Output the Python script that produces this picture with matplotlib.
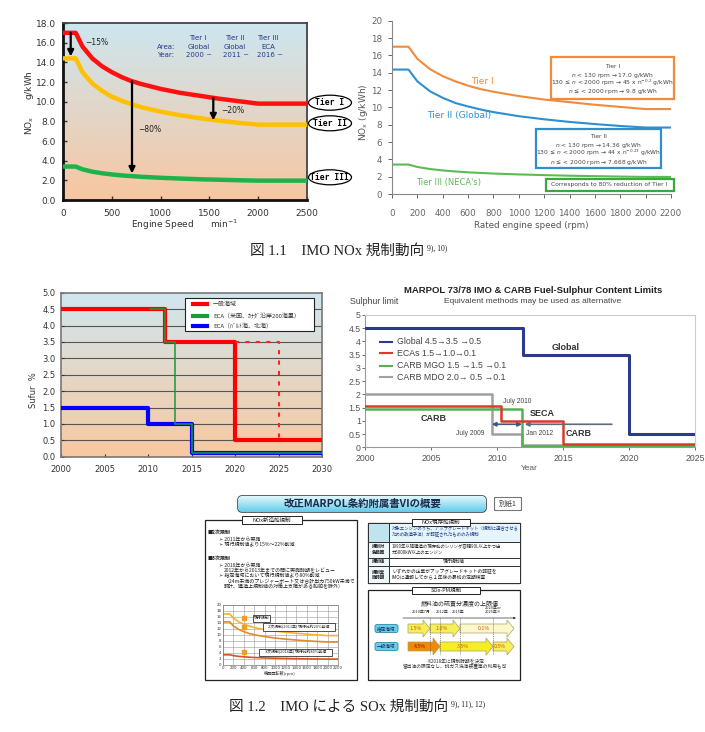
import numpy as np
import matplotlib
matplotlib.use('Agg')
import matplotlib.pyplot as plt
from matplotlib.patches import Rectangle, FancyBboxPatch, Ellipse, Polygon
from matplotlib.colors import LinearSegmentedColormap
from matplotlib.lines import Line2D

# ---------------- data ----------------
# Fig 1.1 (left): NOx limit vs engine speed
speed_a = [0, 130, 200, 300, 400, 500, 600, 700, 800, 1000, 1200, 1400, 1600, 1800, 2000, 2500]
tier1_a = [17.0, 17.0, 15.6, 14.4, 13.6, 13.0, 12.5, 12.1, 11.8, 11.3, 10.9, 10.6, 10.3, 10.05, 9.8, 9.8]
tier2_a = [14.4, 14.4, 13.0, 11.85, 11.1, 10.5, 10.1, 9.75, 9.45, 8.98, 8.62, 8.32, 8.07, 7.85, 7.66, 7.66]
tier3_a = [3.4, 3.4, 3.12, 2.88, 2.72, 2.60, 2.50, 2.43, 2.36, 2.26, 2.18, 2.11, 2.06, 2.01, 1.97, 1.97]
# Fig 1.1 (right): NOx limit vs rated engine speed
speed_b = [0, 130, 200, 300, 400, 500, 600, 700, 800, 1000, 1200, 1400, 1600, 1800, 2000, 2200]
tier1_b = [17.0, 17.0, 15.6, 14.4, 13.6, 13.0, 12.5, 12.1, 11.8, 11.3, 10.9, 10.6, 10.3, 10.05, 9.8, 9.8]
tier2_b = [14.36, 14.36, 13.0, 11.85, 11.1, 10.5, 10.1, 9.75, 9.45, 8.98, 8.62, 8.32, 8.07, 7.85, 7.67, 7.67]
tier3_b = [3.4, 3.4, 3.12, 2.88, 2.72, 2.60, 2.50, 2.43, 2.36, 2.26, 2.18, 2.11, 2.06, 2.01, 1.97, 1.97]

# Fig 1.2 (left): sulphur limits (%)
yrs_general = [2000, 2012, 2020, 2030]
sox_general = [4.5, 3.5, 0.5, 0.5]
yrs_eca_us = [2010.2, 2012, 2013.1, 2015, 2030]
sox_eca_us = [4.5, 3.5, 1.0, 0.1, 0.1]
yrs_eca_eu = [2000, 2010, 2015, 2030]
sox_eca_eu = [1.5, 1.0, 0.1, 0.1]
yrs_alt = [2020, 2025, 2025]
sox_alt = [3.5, 3.5, 0.5]

# Fig 1.2 (right): MARPOL / CARB
yrs_glob = [2000, 2012, 2020, 2025]
lim_glob = [4.5, 3.5, 0.5, 0.5]
yrs_ecas = [2000, 2010.3, 2015, 2025]
lim_ecas = [1.55, 1.0, 0.13, 0.13]
yrs_mgo = [2000, 2011.9, 2025]
lim_mgo = [1.45, 0.05, 0.05]
yrs_mdo = [2000, 2009.6, 2011.9, 2025]
lim_mdo = [2.0, 0.5, 0.08, 0.08]

# infographic SOx table
sox_eca_steps = ['1.5%', '1.0%', '0.1%']
sox_gen_steps = ['4.5%', '3.5%', '0.5%']

# ---------------- figure ----------------
W, H = 705, 732
fig = plt.figure(figsize=(W / 100, H / 100), dpi=100)
fig.patch.set_facecolor('white')

JP = ['Noto Sans CJK JP', 'DejaVu Sans']
SJ = ['Liberation Serif', 'Noto Sans CJK JP']
LS = ['Liberation Sans', 'DejaVu Sans']


def rect(x0, y0, x1, y1):
    return [x0 / W, 1 - y1 / H, (x1 - x0) / W, (y1 - y0) / H]


def grad_bg(ax, top_c, bot_c):
    cmap = LinearSegmentedColormap.from_list('g', [bot_c, top_c])
    g = np.linspace(0, 1, 256).reshape(-1, 1)
    ax.imshow(g, aspect='auto', cmap=cmap, extent=[0, 1, 0, 1], transform=ax.transAxes,
              origin='lower', zorder=0, interpolation='bilinear')


# ======== Fig 1.1 left ========
ax1 = fig.add_axes(rect(63, 23, 307, 200))
grad_bg(ax1, '#cde6f0', '#f8c6a0')
ax1.plot(speed_a, tier1_a, color='#ff1010', lw=3.2, zorder=3)
ax1.plot(speed_a, tier2_a, color='#ffc000', lw=3.2, zorder=3)
ax1.plot(speed_a, tier3_a, color='#1db34a', lw=3.2, zorder=3)
ax1.set_xlim(0, 2500)
ax1.set_ylim(0, 18)
ax1.set_xticks(range(0, 2501, 500))
ax1.set_yticks(np.arange(0, 18.1, 2))
ax1.set_yticklabels([f'{v:.1f}' for v in np.arange(0, 18.1, 2)])
ax1.tick_params(direction='in', length=3, labelsize=6.5, colors='#333', width=1)
ax1.tick_params(axis='y', pad=5)
ax1.tick_params(axis='x', pad=6.5)
for s in ['left', 'bottom']:
    ax1.spines[s].set_color('#111'); ax1.spines[s].set_linewidth(2)
for s in ['top', 'right']:
    ax1.spines[s].set_color('#444'); ax1.spines[s].set_linewidth(1.3)
akw = dict(arrowstyle='-|>', color='black', lw=1.6, mutation_scale=9, shrinkA=0, shrinkB=0)
ax1.annotate('', xy=(79, 14.6), xytext=(79, 17.0), arrowprops=akw, zorder=5)
ax1.annotate('', xy=(707, 2.7), xytext=(707, 12.1), arrowprops=akw, zorder=5)
ax1.annotate('', xy=(1540, 8.1), xytext=(1540, 10.4), arrowprops=akw, zorder=5)
ax1.text(225, 16.0, '−15%', fontsize=5.5, color='#222', va='center')
ax1.text(770, 7.2, '−80%', fontsize=5.5, color='#222', va='center')
ax1.text(1620, 9.1, '−20%', fontsize=5.5, color='#222', va='center')
hc = '#1f3a8a'
for xx, s in [(1380, 'Tier I'), (1757, 'Tier II'), (2100, 'Tier III')]:
    ax1.text(xx, 16.48, s, fontsize=5, color=hc, ha='center', va='center')
ax1.text(960, 15.56, 'Area:', fontsize=5, color=hc, va='center')
ax1.text(960, 14.78, 'Year:', fontsize=5, color=hc, va='center')
for xx, s in [(1386, 'Global'), (1757, 'Global'), (2100, 'ECA')]:
    ax1.text(xx, 15.56, s, fontsize=5, color=hc, ha='center', va='center')
for xx, s in [(1393, '2000 ~'), (1772, '2011 ~'), (2126, '2016 ~')]:
    ax1.text(xx, 14.78, s, fontsize=5, color=hc, ha='center', va='center')

# ======== Fig 1.1 right ========
ax2 = fig.add_axes(rect(392, 20.7, 671, 194))
ax2.plot(speed_b, tier1_b, color='#f28a3c', lw=1.5)
ax2.plot(speed_b, tier2_b, color='#2f8fcd', lw=1.5)
ax2.plot(speed_b, tier3_b, color='#5cbb55', lw=1.5)
ax2.set_xlim(0, 2200)
ax2.set_ylim(0, 20)
ax2.set_xticks(range(0, 2201, 200))
ax2.set_yticks(range(0, 21, 2))
ax2.tick_params(labelsize=6.3, colors='#666', length=3, width=0.7)
ax2.tick_params(axis='x', pad=8)
ax2.tick_params(axis='y', pad=4)
for s in ['top', 'right']:
    ax2.spines[s].set_visible(False)
for s in ['left', 'bottom']:
    ax2.spines[s].set_color('#888'); ax2.spines[s].set_linewidth(0.8)
ax2.text(710, 12.96, 'Tier I', color='#f28a3c', fontsize=6.5, ha='center', va='center')
ax2.text(530, 9.1, 'Tier II (Global)', color='#2f8fcd', fontsize=6.5, ha='center', va='center')
ax2.text(443, 1.35, "Tier III (NECA's)", color='#5cbb55', fontsize=6, ha='center', va='center')
ax2.add_patch(Rectangle((1256, 10.95), 966, 4.9, fill=False, ec='#f28a3c', lw=1.6, clip_on=False))
for yy, s in zip([14.69, 13.73, 12.77, 11.8],
                 ['Tier I', r'$n$ < 130 rpm → 17.0 g/kWh',
                  r'130 ≤ $n$ < 2000 rpm → 45 x n$^{-0.2}$ g/kWh', r'$n$ ≤ < 2000 rpm → 9.8 g/kWh']):
    ax2.text(1739, yy, s, fontsize=4.3, color='#444', ha='center', va='center', clip_on=False)
ax2.add_patch(Rectangle((1132, 2.97), 989, 4.5, fill=False, ec='#2f8fcd', lw=1.6, clip_on=False))
for yy, s in zip([6.69, 5.65, 4.70, 3.66],
                 ['Tier II', r'$n$ < 130 rpm → 14.36 g/kWh',
                  r'130 ≤ $n$ < 2000 rpm → 44 x n$^{-0.23}$ g/kWh', r'$n$ ≤ < 2000 rpm → 7.668 g/kWh']):
    ax2.text(1626, yy, s, fontsize=4.3, color='#444', ha='center', va='center', clip_on=False)
ax2.add_patch(Rectangle((1211, 0.38), 1011, 1.32, fill=False, ec='#3aa83a', lw=1.6, clip_on=False))
ax2.text(1716, 1.04, 'Corresponds to 80% reduction of Tier I', fontsize=4.3, color='#444',
         ha='center', va='center', clip_on=False)

# ======== Fig 1.2 left ========
ax3 = fig.add_axes(rect(61, 292.7, 322, 456.7))
grad_bg(ax3, '#cfe7ef', '#f9c8a0')
for v in np.arange(0.5, 5.0, 0.5):
    ax3.axhline(v, color='#555', lw=0.8, zorder=1)
ax3.plot(yrs_general, sox_general, drawstyle='steps-post', color='#ff0000', lw=3, zorder=3)
ax3.plot(yrs_alt, sox_alt, color='#ff2020', lw=1.5, ls=(0, (2, 3)), zorder=3)
ax3.plot(yrs_eca_eu, sox_eca_eu, drawstyle='steps-post', color='#0000ff', lw=3, zorder=3)
ax3.plot(yrs_eca_us, sox_eca_us, drawstyle='steps-post', color='#1a9a3a', lw=1.3, alpha=0.85, zorder=4)
ax3.set_xlim(2000, 2030)
ax3.set_ylim(0, 5)
ax3.set_xticks(range(2000, 2031, 5))
ax3.set_yticks(np.arange(0, 5.01, 0.5))
ax3.set_yticklabels([f'{v:.1f}' for v in np.arange(0, 5.01, 0.5)])
ax3.tick_params(direction='in', length=2, labelsize=6, colors='#333')
ax3.tick_params(axis='y', pad=4)
ax3.tick_params(axis='x', pad=6)
for s in ax3.spines.values():
    s.set_color('#777'); s.set_linewidth(1.2)

# ======== Fig 1.2 right ========
ax4 = fig.add_axes(rect(365, 315, 695, 447.3))
ax4.plot(yrs_mdo, lim_mdo, drawstyle='steps-post', color='#a0a0a0', lw=1.8, zorder=2)
ax4.plot(yrs_mgo, lim_mgo, drawstyle='steps-post', color='#55b055', lw=1.8, zorder=3)
ax4.plot(yrs_ecas, lim_ecas, drawstyle='steps-post', color='#d93a2b', lw=1.8, zorder=4)
ax4.plot(yrs_glob, lim_glob, drawstyle='steps-post', color='#2b3a8f', lw=2.2, zorder=5)
ax4.set_xlim(2000, 2025)
ax4.set_ylim(0, 5)
ax4.set_xticks(range(2000, 2026, 5))
ax4.set_yticks(np.arange(0, 5.01, 0.5))
ax4.set_yticklabels(['0', '0.5', '1', '1.5', '2', '2.5', '3', '3.5', '4', '4.5', '5'])
ax4.tick_params(labelsize=6.3, colors='#555', length=2.5, width=0.6)
ax4.tick_params(axis='y', pad=0.5)
ax4.tick_params(axis='x', pad=2)
for lab in ax4.get_xticklabels() + ax4.get_yticklabels():
    lab.set_family(LS)
for s in ['left', 'bottom']:
    ax4.spines[s].set_color('#999'); ax4.spines[s].set_linewidth(0.8)
for s in ['top', 'right']:
    ax4.spines[s].set_color('#ccc'); ax4.spines[s].set_linewidth(0.8)
ax4.annotate('', xy=(2009.6, 0.87), xytext=(2011.9, 0.87),
             arrowprops=dict(arrowstyle='<|-|>', color='#3a5a80', lw=1.2, mutation_scale=6,
                             shrinkA=0, shrinkB=0), zorder=6)
ax4.annotate('', xy=(2012.1, 0.87), xytext=(2018.7, 0.87),
             arrowprops=dict(arrowstyle='-|>', color='#5a6a80', lw=1.2, mutation_scale=6,
                             shrinkA=0, shrinkB=0), zorder=6)
ax4.text(2011.5, 1.72, 'July 2010', fontsize=4.8, color='#444', ha='center', va='center', family=LS)
ax4.text(2008.0, 0.53, 'July 2009', fontsize=4.8, color='#444', ha='center', va='center', family=LS)
ax4.text(2013.2, 0.53, 'Jan 2012', fontsize=4.8, color='#444', ha='center', va='center', family=LS)
ax4.text(2013.4, 1.26, 'SECA', fontsize=6.5, color='#333', ha='center', va='center', family=LS, fontweight='bold')
ax4.text(2005.2, 1.1, 'CARB', fontsize=6.5, color='#333', ha='center', va='center', family=LS, fontweight='bold')
ax4.text(2016.2, 0.53, 'CARB', fontsize=6.5, color='#333', ha='center', va='center', family=LS, fontweight='bold')
ax4.text(2015.2, 3.78, 'Global', fontsize=6.5, color='#333', ha='center', va='center', family=LS, fontweight='bold')

# ======== infographic small chart ========
ax5 = fig.add_axes(rect(223, 605, 338, 665))
ax5.plot(speed_b, tier1_b, color='#f7b22e', lw=1.2)
ax5.plot(speed_b, tier2_b, color='#e08a30', lw=1.2)
ax5.plot(speed_b, tier3_b, color='#d9531e', lw=1.2)
ax5.set_xlim(0, 2200)
ax5.set_ylim(0, 20)
ax5.set_xticks(range(0, 2201, 200))
ax5.set_yticks(range(0, 21, 2))
ax5.grid(True, color='#999', lw=0.4)
ax5.tick_params(labelsize=2.8, length=0, pad=1, colors='#333')
for s in ax5.spines.values():
    s.set_color('#777'); s.set_linewidth(0.5)
ax5.plot([400, 400, 400], [15.7, 12.8, 4.2], 's', color='#f0a020', ms=3)

# ======== overlay on top (pixel coordinates) ========
top = fig.add_axes([0, 0, 1, 1], zorder=10)
top.set_xlim(0, W); top.set_ylim(H, 0); top.axis('off')


def T(x, y, s, size=5, ha='center', va='center', color='#222', weight='normal', family=JP, **kw):
    return top.text(x, y, s, fontsize=size, ha=ha, va=va, color=color, fontweight=weight, family=family, **kw)


# Fig 1.1 left labels
T(29, 103, 'NO$_\\mathregular{x}$      g/kWh', size=6.5, rotation=90, family=['DejaVu Sans'], color='#333')
T(184, 225, 'Engine Speed      min$^{-1}$', size=6.5, family=['DejaVu Sans'], color='#333')
for yy, s in [(102.7, 'Tier I'), (123.3, 'Tier II'), (177.3, 'Tier III')]:
    top.add_patch(Ellipse((330, yy), 43, 15, fc='white', ec='black', lw=0.9))
    T(330, yy, s, size=5.8, weight='bold', family=['DejaVu Sans Mono'], color='black')
# Fig 1.1 right labels
T(363, 112, 'NO$_\\mathregular{x}$ (g/kWh)', size=6.5, rotation=90, family=['DejaVu Sans'], color='#555')
T(531, 225, 'Rated engine speed (rpm)', size=6.3, family=['DejaVu Sans'], color='#555')

# Fig 1.2 left labels + legend
T(33, 390, 'Sufur  %', size=6, rotation=90, family=['DejaVu Sans'], color='#333')
top.add_patch(Rectangle((185, 298), 129, 33, fc='white', ec='#222', lw=0.8))
for yy, c, s in [(304, '#ff0000', '一般海域'), (315.7, '#1a9a3a', 'ECA（米国、ｶﾅﾀﾞ沿岸200海里）'),
                 (326, '#0000ff', 'ECA（ﾊﾞﾙﾄ海、北海）')]:
    top.add_line(Line2D([193, 207], [yy, yy], color=c, lw=3))
    T(213, yy, s, size=4.3, ha='left', color='#333')

# Fig 1.2 right titles + legend
T(533, 290.7, 'MARPOL 73/78 IMO & CARB Fuel-Sulphur Content Limits', size=6.8, weight='bold', family=LS, color='#222')
T(533, 301.7, 'Equivalent methods may be used as alternative', size=6, family=LS, color='#444')
T(350, 302, 'Sulphur limit', size=6.3, ha='left', family=LS, color='#444')
T(529, 469, 'Year', size=6, family=LS, color='#555')
for yy, c, s in [(341.7, '#2b3a8f', 'Global 4.5→3.5 →0.5'), (353.3, '#d93a2b', 'ECAs 1.5→1.0→0.1'),
                 (366, '#55b055', 'CARB MGO 1.5 →1.5 →0.1'), (377.3, '#a0a0a0', 'CARB MDO 2.0→ 0.5 →0.1')]:
    top.add_line(Line2D([380, 392], [yy, yy], color=c, lw=1.5))
    T(397, yy, s, size=6.3, ha='left', family=LS, color='#444')

# ======== infographic ========
ban = FancyBboxPatch((238, 496), 248, 16, boxstyle='round,pad=0,rounding_size=4',
                     fc='none', ec='#222', lw=1.0)
top.add_patch(ban)
cm_ban = LinearSegmentedColormap.from_list('b', ['#e3f8fd', '#63cbea'])
im = top.imshow(np.linspace(0, 1, 64).reshape(-1, 1), cmap=cm_ban, aspect='auto',
                extent=[238, 486, 512, 496], origin='upper', zorder=1)
im.set_clip_path(ban)
T(362, 504, '改正MARPOL条約附属書VIの概要', size=7.5, weight='bold', color='#1a2a4a')
top.set_xlim(0, W); top.set_ylim(H, 0)
top.add_patch(Rectangle((494, 497), 27, 13, fc='white', ec='#777', lw=0.8))
T(507.5, 503.5, '別紙1', size=5, color='#333')

# left panel
top.add_patch(Rectangle((205, 520), 152, 160, fc='none', ec='#222', lw=0.9))
top.add_patch(Rectangle((242, 516), 60, 8, fc='white', ec='#222', lw=0.7))
T(272, 520, 'NOx新造船規制', size=4, color='#222')
left_lines = [
    (208, 532.7, '■2次規制', 'bold'),
    (219, 538.7, '➢ 2011年から実施', 'normal'),
    (219, 544.5, '➢ 現行規制値より15%～22%削減', 'normal'),
    (208, 558, '■3次規制', 'bold'),
    (219, 565, '➢ 2016年から実施', 'normal'),
    (224, 570.3, '2012年から2013年までの間に実施時期をレビュー', 'normal'),
    (219, 576, '➢ 指定海域において現行規制値より80%削減', 'normal'),
    (224, 581.3, '（24m未満のプレジャーボート又は合計出力750kW未満で', 'normal'),
    (224, 586.7, '設計、建造上規制値の対策上支障がある船舶を除外）', 'normal'),
]
for xx, yy, s, w in left_lines:
    T(xx, yy, s, size=3.6, ha='left', color='#222', weight=w)
for (x0, y0, x1, y1, s) in [(253, 614.5, 270, 621.5, '現行規制'),
                            (262.7, 623, 335, 630.5, '2次規制(2011年) 現行比約20%削減'),
                            (259, 648.5, 331.7, 656, '3次規制(2016年) 現行比約80%削減')]:
    top.add_patch(Rectangle((x0, y0), x1 - x0, y1 - y0, fc='white', ec='#333', lw=0.6))
    T((x0 + x1) / 2, (y0 + y1) / 2, s, size=2.8, color='#222')
T(280, 673, '機関回転数(rpm)', size=3, color='#333')

# right table
top.add_patch(Rectangle((368, 522.7), 152, 60, fc='none', ec='#222', lw=0.9))
top.add_patch(Rectangle((368, 522.7), 21, 19, fc='#bfe4ee', ec='#222', lw=0.6))
top.add_patch(Rectangle((389, 522.7), 131, 19, fc='#e6f5fa', ec='#222', lw=0.6))
for y0, y1 in [(541.7, 557.7), (557.7, 566), (566, 582.7)]:
    top.add_patch(Rectangle((368, y0), 21, y1 - y0, fc='#eef8fb', ec='#222', lw=0.6))
    top.add_patch(Rectangle((389, y0), 131, y1 - y0, fc='white', ec='#222', lw=0.6))
top.add_patch(Rectangle((412, 518.5), 58, 7, fc='white', ec='#222', lw=0.7))
T(441, 522, 'NOx現存船規制', size=4, color='#222')
T(392, 531, '対象エンジンのうち、アップグレードキット（規制に適合させる\nための改造手法）が認証されたもののみ規制',
  size=3.2, ha='left', color='#1a3a8a', linespacing=1.2)
T(378.5, 549.7, '規制対\n象範囲', size=3.2, weight='bold', linespacing=1.2)
T(392, 549.7, '1990年以降建造の現存船のシリンダ容積90L以上かつ出\n力5000kW以上のエンジン', size=3.2, ha='left',
  linespacing=1.2)
T(378.5, 561.8, '規制値', size=3.2, weight='bold')
T(454, 561.8, '現行規制値', size=3.2)
T(378.5, 574.3, '規制実\n施時期', size=3.2, weight='bold', linespacing=1.2)
T(392, 574.3, 'いずれかの企業がアップグレードキットの認証を\nIMOに通報してから１年後の最初の定期検査', size=3.4,
  ha='left', linespacing=1.2)

# SOx-PM panel
top.add_patch(Rectangle((368, 590), 152, 89.5, fc='none', ec='#222', lw=0.9))
top.add_patch(Rectangle((412, 587), 68, 7, fc='white', ec='#222', lw=0.7))
T(446, 590.5, 'SOx-PM規制', size=4, color='#222')
T(460, 603.5, '燃料油の硫黄分濃度の上限値', size=4.3, color='#222')
top.annotate('', xy=(516, 618), xytext=(403, 618),
             arrowprops=dict(arrowstyle='-|>', color='#333', lw=0.5, mutation_scale=3, shrinkA=0, shrinkB=0))
for xx in [430, 440, 460, 493]:
    top.add_line(Line2D([xx, xx], [618, 655], color='#555', lw=0.4, ls=(0, (2, 1.5))))
T(421, 612, '2010年7月', size=2.8)
T(442, 612, '2012年', size=2.8)
T(458, 612, '2015年', size=2.8)
T(493, 610, '2020年or\n2025年※', size=2.8, linespacing=1.1)


def harrow(x0, x1, yc, fc, label, tc):
    hb, hh, hl = 4.5, 8.5, 7
    pts = [(x0, yc - hb), (x1 - hl, yc - hb), (x1 - hl, yc - hh), (x1, yc),
           (x1 - hl, yc + hh), (x1 - hl, yc + hb), (x0, yc + hb)]
    top.add_patch(Polygon(pts, closed=True, fc=fc, ec='#b0a060', lw=0.5))
    T((x0 + x1 - hl) / 2, yc, label, size=3.8, color=tc)


for (x0, x1), fc, s in zip([(408, 430), (430, 460), (460, 514)], ['#f5ef5a', '#f5ef5a', '#fbf8cf'], sox_eca_steps):
    harrow(x0, x1, 628.5, fc, s, '#d05a10')
for (x0, x1), fc, s, tc in zip([(408, 440), (440, 493), (493, 514)], ['#f08a00', '#f5ef20', '#f5ef5a'], sox_gen_steps,
                               ['#7a2000', '#d05a10', '#d05a10']):
    harrow(x0, x1, 646.5, fc, s, tc)
for yy, s in [(628.5, '指定海域'), (646.5, '一般海域')]:
    top.add_patch(FancyBboxPatch((375, yy - 4), 23, 8, boxstyle='round,pad=0,rounding_size=2',
                                 fc='#6ccbe8', ec='#2a8bb0', lw=0.6))
    T(386.5, yy, s, size=3.3, color='#0a2a5a')
T(455, 661.5, '※2018年に規制時期を決定', size=3.4, color='#333')
T(455, 667, '留出油の限定なし、排ガス洗浄装置等の利用も可', size=3.4, color='#333')

# captions with superscript references placed right after the measured main text
renderer = fig.canvas.get_renderer()
for (x0, yc, main, sup) in [(250, 251, '図 1.1　IMO NOx 規制動向', '9), 10)'),
                            (229, 706.7, '図 1.2　IMO による SOx 規制動向', '9), 11), 12)')]:
    tt = T(x0, yc, main, size=10.5, ha='left', family=SJ, color='#222')
    bb = tt.get_window_extent(renderer)
    T(bb.x1 + 2.5, yc - 3, sup, size=5.5, ha='left', family=SJ, color='#222')

fig.savefig('out.png', dpi=100, facecolor='white')
